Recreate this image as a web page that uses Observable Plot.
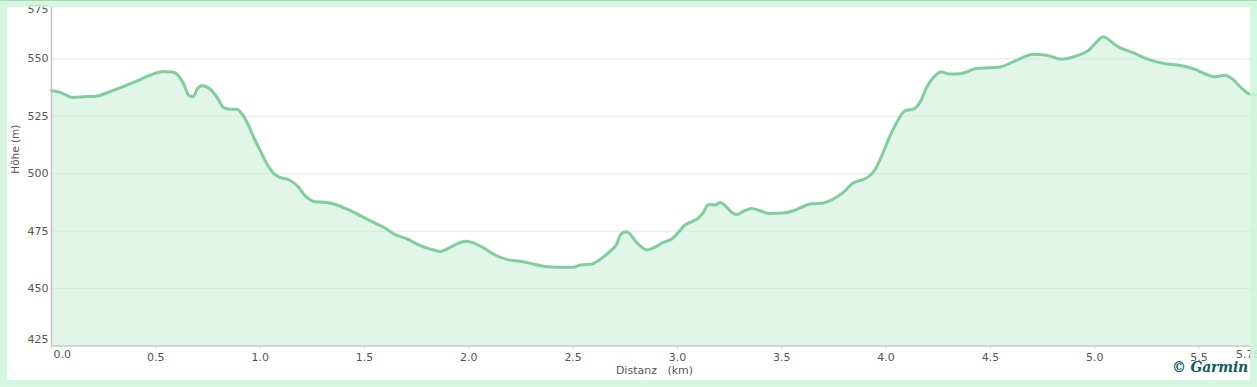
<!DOCTYPE html>
<html>
<head>
<meta charset="utf-8">
<script src="https://cdn.jsdelivr.net/npm/d3@7"></script>
<script src="https://cdn.jsdelivr.net/npm/@observablehq/plot@0.6"></script>
<style>
  html, body { margin: 0; padding: 0; background: #ffffff; }
  #wrap { position: relative; width: 1257px; height: 387px; overflow: hidden; background: #fff; }
  #wrap svg { position: absolute; left: 0; top: 0; }
  .bd { position: absolute; background: rgba(206, 246, 218, 0.85); pointer-events: none; }
  .garmin { position: absolute; left: 1172px; top: 359px; font: bold italic 14px "DejaVu Serif", serif; color: #0e5d5a; white-space: nowrap; letter-spacing: -0.2px; }
</style>
</head>
<body>
<div id="wrap"></div>
<script>
// Distance along the route (km)
const km = [
  0, 0.043, 0.099, 0.155, 0.219, 0.282, 0.346, 0.41, 0.474, 0.538,
  0.578, 0.61, 0.634, 0.658, 0.679, 0.698, 0.722, 0.761, 0.794, 0.825,
  0.857, 0.889, 0.913, 0.945, 0.969, 1.001, 1.033, 1.065, 1.096, 1.137,
  1.177, 1.216, 1.264, 1.32, 1.368, 1.432, 1.496, 1.56, 1.592, 1.64,
  1.704, 1.767, 1.831, 1.863, 1.927, 1.983, 2.015, 2.07, 2.134, 2.19,
  2.246, 2.31, 2.366, 2.422, 2.501, 2.534, 2.59, 2.629, 2.677, 2.709,
  2.728, 2.753, 2.772, 2.796, 2.829, 2.853, 2.885, 2.932, 2.973, 3.005,
  3.037, 3.069, 3.1, 3.124, 3.148, 3.18, 3.204, 3.228, 3.26, 3.284,
  3.316, 3.356, 3.396, 3.436, 3.507, 3.555, 3.587, 3.635, 3.699, 3.747,
  3.795, 3.842, 3.907, 3.945, 3.979, 4.019, 4.051, 4.09, 4.13, 4.162,
  4.194, 4.234, 4.266, 4.306, 4.353, 4.433, 4.545, 4.625, 4.705, 4.769,
  4.841, 4.912, 4.976, 5.016, 5.04, 5.064, 5.104, 5.183, 5.263, 5.327,
  5.423, 5.487, 5.543, 5.575, 5.623, 5.655, 5.703, 5.743, 5.78
];
// Elevation (m)
const hoehe = [
  536.1, 535.4, 533.2, 533.5, 533.9, 535.8, 538.0, 540.4, 543.0, 544.5,
  544.3, 542.6, 539.0, 534.2, 533.5, 536.8, 538.3, 536.8, 533.2, 528.8,
  528.1, 528.1, 526.0, 520.9, 515.8, 510.0, 504.2, 500.1, 498.4, 497.4,
  494.8, 490.4, 487.8, 487.5, 486.4, 483.9, 481.0, 478.1, 476.7, 473.8,
  471.6, 468.7, 466.8, 466.2, 468.7, 470.6, 470.1, 467.7, 464.3, 462.5,
  461.9, 460.7, 459.6, 459.3, 459.3, 460.3, 460.7, 462.7, 466.2, 469.4,
  473.5, 474.8, 473.8, 470.9, 468.0, 466.8, 467.7, 470.1, 471.6, 474.5,
  477.8, 479.1, 480.7, 483.2, 486.5, 486.4, 487.5, 486.1, 483.2, 482.2,
  483.6, 484.9, 483.9, 482.7, 482.9, 483.9, 485.1, 486.8, 487.3, 489.0,
  491.9, 496.0, 498.2, 501.5, 507.8, 516.5, 522.3, 527.4, 528.1, 531.0,
  537.5, 542.6, 544.3, 543.4, 543.5, 545.8, 546.5, 549.4, 552.0, 551.6,
  549.9, 551.3, 554.2, 558.1, 559.7, 558.6, 555.7, 552.7, 549.6, 548.1,
  546.9, 545.2, 543.0, 542.2, 542.9, 541.6, 537.3, 534.7, 534.5
];
const yTicks = [450, 475, 500, 525, 550];
const yEdgeTicks = [425, 575];
const xTicks = [0, 0.5, 1.0, 1.5, 2.0, 2.5, 3.0, 3.5, 4.0, 4.5, 5.0, 5.5, 5.78];
const xLabel = "Distanz\u00a0\u00a0\u00a0(km)";
const yLabel = "Höhe (m)";

const data = km.map((d, i) => ({km: d, h: hoehe[i]}));
const font = "DejaVu Sans, Verdana, sans-serif";

const chart = Plot.plot({
  width: 1257,
  height: 387,
  marginLeft: 51,
  marginRight: 0,
  marginTop: 1,
  marginBottom: 41.5,
  style: {fontFamily: font, fontSize: "11px", color: "#555", background: "transparent", overflow: "visible"},
  x: {domain: [0, 5.78]},
  y: {domain: [425, 575]},
  marks: [
    Plot.gridY(yTicks, {stroke: "#e4e4e4", strokeOpacity: 1, strokeWidth: 1}),
    Plot.areaY(data, {x: "km", y1: 425, y2: "h", fill: "#c9edd6", fillOpacity: 0.55, curve: "monotone-x"}),
    Plot.line(data, {x: "km", y: "h", stroke: "#7ecf9b", strokeWidth: 3, curve: "monotone-x"}),
    Plot.ruleX([0], {y1: 425, y2: 572.5, stroke: "#c4c4c4", strokeWidth: 1.5}),
    Plot.ruleY([425], {stroke: "#c8c8c8", strokeWidth: 1.5}),
    Plot.axisY(yTicks, {tickSize: 0, tickPadding: 3, label: null, fill: "#555"}),
    Plot.text(yEdgeTicks, {frameAnchor: "left", y: d => d, text: d => String(d), textAnchor: "end", dx: -3, fill: "#555"}),
    Plot.axisX(xTicks, {tickSize: 3, tickPadding: 4, label: null, stroke: "#c8c8c8",
      tickFormat: d => (d === 0 || d === 5.78) ? "" : d.toFixed(1), fill: "#555"}),
    Plot.text([0], {x: d => d, frameAnchor: "bottom", text: d => "0.0", textAnchor: "start", dx: 2, dy: 11.5, fill: "#555"}),
    Plot.text([5.78], {x: d => d, frameAnchor: "bottom", text: d => "5.78", textAnchor: "end", dx: 3, dy: 11.5, fill: "#555"}),
    Plot.text([xLabel], {frameAnchor: "bottom", dy: 27.5, fill: "#555", fontSize: 11}),
    Plot.text([yLabel], {frameAnchor: "left", dx: -36, rotate: -90, fill: "#555", fontSize: 10.5})
  ]
});
const wrap = document.getElementById("wrap");
wrap.appendChild(chart);

// the two clamped edge labels on the y axis (575 shown inside, 425 lifted)
chart.querySelectorAll("text").forEach(t => {
  if (t.textContent === "575") t.setAttribute("transform", (t.getAttribute("transform") || "") + " translate(0,8)");
  if (t.textContent === "425") t.setAttribute("transform", (t.getAttribute("transform") || "") + " translate(0,-6.5)");
});

// frame borders
[
  {l: 0, t: 0, w: 1257, h: 7},
  {l: 0, t: 7, w: 7, h: 373},
  {l: 1250, t: 7, w: 7, h: 373},
  {l: 0, t: 380, w: 1257, h: 7}
].forEach(b => {
  const d = document.createElement("div");
  d.className = "bd";
  Object.assign(d.style, {left: b.l + "px", top: b.t + "px", width: b.w + "px", height: b.h + "px"});
  wrap.appendChild(d);
});
const topLine = document.createElement("div");
topLine.className = "bd";
Object.assign(topLine.style, {left: "0px", top: "0px", width: "1257px", height: "1px", background: "#a9d9b5"});
wrap.appendChild(topLine);
const g = document.createElement("div");
g.className = "garmin";
g.textContent = "© Garmin";
wrap.appendChild(g);
</script>
</body>
</html>
